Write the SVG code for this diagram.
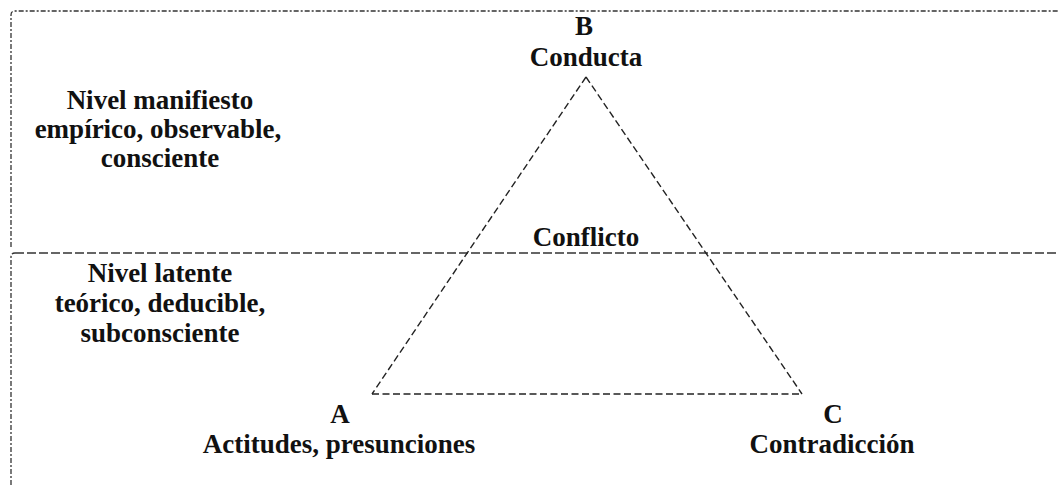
<svg xmlns="http://www.w3.org/2000/svg" width="1058" height="485" viewBox="0 0 1058 485">
<style>
text{font-family:"Liberation Serif","Times New Roman",serif;font-weight:bold;font-size:27px;fill:#111;text-anchor:middle}
.dashdot{fill:none;stroke:#333;stroke-width:1.3;stroke-dasharray:5 2 2 2}
.dash{fill:none;stroke:#333;stroke-width:1.4;stroke-dasharray:9 3}
.edge{fill:none;stroke:#222;stroke-width:1.4;stroke-dasharray:7 3.5}
</style>
<rect width="1058" height="485" fill="#fff"/>
<g id="regions">
<path class="dashdot" d="M11,247 L11,15 Q11,11 15,11 L1058,11"/>
<path class="dash" d="M15,253 L1058,253"/>
<path class="dashdot" d="M11,485 L11,257 Q11,253 15,253"/>
</g>
<g id="connectors">
<line class="edge" x1="586" y1="77" x2="372" y2="394"/>
<line class="edge" x1="586" y1="77" x2="802" y2="394"/>
<line class="edge" x1="372" y1="394" x2="802" y2="394"/>
</g>
<g id="node-B">
<text x="584" y="35">B</text>
<text x="586" y="66">Conducta</text>
</g>
<g id="node-A">
<text x="340" y="423">A</text>
<text x="339" y="453">Actitudes, presunciones</text>
</g>
<g id="node-C">
<text x="833" y="423">C</text>
<text x="832" y="453">Contradicción</text>
</g>
<g id="label-conflicto">
<text x="586" y="246">Conflicto</text>
</g>
<g id="level-manifiesto">
<text x="160" y="109">Nivel manifiesto</text>
<text x="158" y="138">empírico, observable,</text>
<text x="160" y="167">consciente</text>
</g>
<g id="level-latente">
<text x="160" y="282">Nivel latente</text>
<text x="160" y="312">teórico, deducible,</text>
<text x="160" y="342">subconsciente</text>
</g>
</svg>
